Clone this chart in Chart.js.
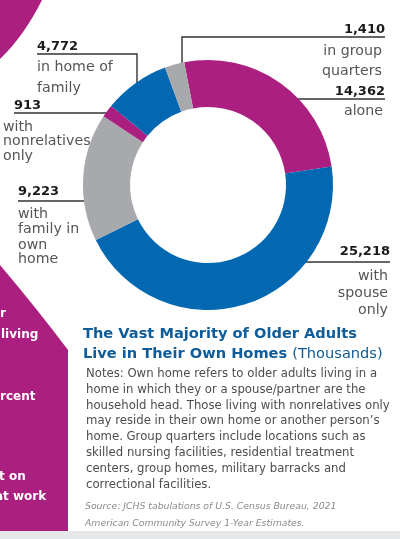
<!DOCTYPE html>
<html><head><meta charset="utf-8">
<script src="https://cdn.jsdelivr.net/npm/chart.js@4.4.0/dist/chart.umd.min.js"></script>
<style>html,body{margin:0;padding:0;background:#fff;overflow:hidden}#wrap{position:relative;width:400px;height:539px}canvas{position:absolute;left:0;top:0}</style>
</head><body><div id="wrap"><canvas id="c" width="400" height="539"></canvas></div>
<script>
// ---- data ----
const categories = ['alone', 'with spouse only', 'with family in own home', 'with nonrelatives only', 'in home of family', 'in group quarters'];
const values = [14362, 25218, 9223, 913, 4772, 1410];
const labelLines = [['alone'], ['with', 'spouse', 'only'], ['with', 'family in', 'own', 'home'], ['with', 'nonrelatives', 'only'], ['in home of', 'family'], ['in group', 'quarters']];
const titleBold = ['The Vast Majority of Older Adults', 'Live in Their Own Homes'];
const titleUnit = '(Thousands)';
const notesLines = [
  'Notes: Own home refers to older adults living in a',
  'home in which they or a spouse/partner are the',
  'household head. Those living with nonrelatives only',
  'may reside in their own home or another person\u2019s',
  'home. Group quarters include locations such as',
  'skilled nursing facilities, residential treatment',
  'centers, group homes, military barracks and',
  'correctional facilities.'
];
const sourceLines = ['Source: JCHS tabulations of U.S. Census Bureau, 2021', 'American Community Survey 1-Year Estimates.'];
const sideTexts = ['r', 'living', 'rcent', 't on', 'at work'];

// ---- style / layout ----
const MAG = '#AB1F80', BLUE = '#0268B2', GRAY = '#A7A9AC';
const colors = [MAG, BLUE, GRAY, MAG, BLUE, GRAY];
const FONT = '"DejaVu Sans", sans-serif';
const fmt = v => v.toLocaleString('en-US');

// label placement per category: align, x for number, number centre y, leader polyline, text x, text centre ys
const labelLayout = [
  {align: 'right', nx: 385, ny: 92, lead: [[385, 99], [290, 99]], tx: 383, ty: [111]},
  {align: 'right', nx: 390, ny: 252, lead: [[390, 262], [290, 262]], tx: 388, ty: [276, 293, 310]},
  {align: 'left', nx: 18, ny: 192, lead: [[18, 201], [110, 201]], tx: 18, ty: [214, 229, 245, 259]},
  {align: 'left', nx: 14, ny: 106, lead: [[14, 113], [130, 113]], tx: 3, ty: [127, 141, 156]},
  {align: 'left', nx: 37, ny: 47, lead: [[37, 54], [137, 54], [137, 100]], tx: 37, ty: [67, 88]},
  {align: 'right', nx: 385, ny: 30, lead: [[385, 37], [182, 37], [182, 80]], tx: 382, ty: [51, 71]}
];

const deco = {
  id: 'deco',
  beforeDraw(chart) {
    const c = chart.ctx;
    c.save();
    c.fillStyle = '#fff';
    c.fillRect(0, 0, 400, 539);
    // decorative magenta shapes on the left
    c.fillStyle = MAG;
    c.beginPath();
    c.moveTo(0, 0); c.lineTo(42, 0); c.quadraticCurveTo(24, 36, 0, 59); c.closePath(); c.fill();
    c.beginPath();
    c.moveTo(0, 265); c.quadraticCurveTo(38, 310, 68, 350); c.lineTo(68, 531); c.lineTo(0, 531); c.closePath(); c.fill();
    // bottom strip
    c.fillStyle = '#E6E7E8';
    c.fillRect(0, 531, 400, 8);
    // leader lines (behind ring)
    c.strokeStyle = '#333';
    c.lineWidth = 1.4;
    labelLayout.forEach(L => {
      c.beginPath();
      L.lead.forEach((p, i) => i ? c.lineTo(p[0], p[1]) : c.moveTo(p[0], p[1]));
      c.stroke();
    });
    c.restore();
  },
  afterDraw(chart) {
    const c = chart.ctx;
    c.save();
    c.textBaseline = 'middle';
    // category labels
    labelLayout.forEach((L, i) => {
      c.textAlign = L.align;
      c.fillStyle = '#1a1a1a';
      c.font = 'bold 13px ' + FONT;
      c.fillText(fmt(values[i]), L.nx, L.ny);
      c.fillStyle = '#555';
      c.font = '14.2px ' + FONT;
      labelLines[i].forEach((t, k) => c.fillText(t, L.tx, L.ty[k]));
    });
    // white side texts
    c.textAlign = 'left';
    c.fillStyle = '#fff';
    c.font = 'bold 12px ' + FONT;
    const sy = [314, 335, 397, 477, 497];
    c.fillText(sideTexts[0], 0, sy[0]);
    c.fillText(sideTexts[1], 1, sy[1]);
    c.fillText(sideTexts[2], 0, sy[2]);
    c.fillText(sideTexts[3], -1, sy[3]);
    const pre = c.measureText(sideTexts[4].split(' ')[0] + ' ').width;
    c.fillText(sideTexts[4], 13 - pre, sy[4]);
    // title
    c.fillStyle = '#0E5C99';
    c.font = 'bold 14.6px ' + FONT;
    c.fillText(titleBold[0], 83, 334);
    c.fillText(titleBold[1], 83, 354);
    const w = c.measureText(titleBold[1] + ' ').width;
    c.font = '14.6px ' + FONT;
    c.fillText(titleUnit, 83 + w, 354);
    // notes
    c.fillStyle = '#4d4d4d';
    c.font = '11.7px ' + FONT;
    notesLines.forEach((t, k) => c.fillText(t, 86, 374 + k * 15.8));
    // source
    c.fillStyle = '#8a8a8a';
    c.font = 'italic 9.3px ' + FONT;
    sourceLines.forEach((t, k) => c.fillText(t, 85, 507 + k * 16.5));
    c.restore();
  }
};

new Chart(document.getElementById('c').getContext('2d'), {
  type: 'doughnut',
  data: {labels: categories, datasets: [{data: values, backgroundColor: colors, borderWidth: 0, hoverOffset: 0}]},
  options: {
    responsive: false, animation: false, events: [],
    rotation: -11, cutout: '62.4%',
    layout: {padding: {left: 83, right: 67, top: 60, bottom: 229}},
    plugins: {legend: {display: false}, tooltip: {enabled: false}}
  },
  plugins: [deco]
});
</script></body></html>
